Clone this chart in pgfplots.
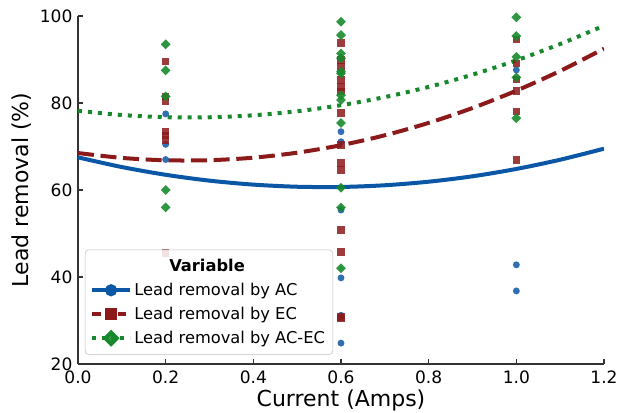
\documentclass[border=0pt]{standalone}
\usepackage{pgfplots}
\pgfplotsset{compat=1.18}
\usepackage{fontspec}
\usepackage{calc}
\setmainfont{DejaVu Sans}
\definecolor{cblue}{HTML}{0B56A5}
\definecolor{cred}{HTML}{8C1A1A}
\definecolor{cgreen}{HTML}{17892C}
\begin{document}
\begin{tikzpicture}
\begin{axis}[
  scale only axis,
  width=394.5pt, height=261pt,
  xmin=0, xmax=1.2, ymin=20, ymax=100,
  axis x line*=bottom, axis y line*=left,
  axis line style={line width=0.8pt, black!80},
  tick style={line width=0.8pt, black!80},
  tick align=inside,
  major tick length=3.5pt,
  xtick={0,0.2,0.4,0.6,0.8,1.0,1.2},
  ytick={20,40,60,80,100},
  xticklabel style={inner ysep=0pt, inner xsep=0pt, yshift=-4.6pt, /pgf/number format/fixed, /pgf/number format/fixed zerofill, /pgf/number format/precision=1},
  /pgf/number format/assume math mode=true,
  tick label style={font=\fontsize{12.8}{15}\selectfont},
  yticklabel style={inner xsep=4pt, inner ysep=0pt},
  label style={font=\fontsize{16.5}{19}\selectfont},
  xlabel={Current (Amps)},
  ylabel={Lead removal (\%)},
  xlabel style={yshift=-1pt},
  ylabel style={yshift=-1pt},
  legend image code/.code={\draw[mark repeat=2,mark phase=2,#1] plot coordinates {(0pt,0pt) (14pt,0pt) (28pt,0pt)};},
  legend style={at={(rel axis cs:0.013,0.026)}, anchor=south west,
    draw=black!25, rounded corners=3pt, fill=white, fill opacity=0.85, text opacity=1,
    font=\fontsize{12.2}{14}\selectfont, row sep=3.2pt, inner xsep=4pt, inner ysep=5pt},
  legend cell align=left,
]
% fitted curves
\addplot[cblue, line width=3pt, smooth, forget plot] coordinates {
 (0,67.5) (0.1,65.28) (0.2,63.50) (0.3,62.15) (0.4,61.24) (0.5,60.75) (0.6,60.70)
 (0.7,61.09) (0.8,61.91) (0.9,63.15) (1.0,64.84) (1.1,66.96) (1.2,69.5)};
\addplot[cred, line width=3pt, smooth, dash pattern=on 12pt off 5pt, forget plot] coordinates {
 (0,68.5) (0.1,67.38) (0.2,66.83) (0.3,66.85) (0.4,67.43) (0.5,68.58) (0.6,70.3)
 (0.7,72.58) (0.8,75.43) (0.9,78.85) (1.0,82.83) (1.1,87.38) (1.2,92.5)};
\addplot[cgreen, line width=3pt, smooth, dash pattern=on 3pt off 4.5pt, forget plot] coordinates {
 (0,78.2) (0.1,77.24) (0.2,76.74) (0.3,76.72) (0.4,77.18) (0.5,78.1) (0.6,79.5)
 (0.7,81.36) (0.8,83.7) (0.9,86.52) (1.0,89.8) (1.1,93.56) (1.2,97.78)};
% observations
\addplot[only marks, mark=*, mark size=2.6pt, cblue, fill opacity=0.85, draw opacity=0, forget plot] coordinates {
 (0.2,77.5) (0.2,70.5) (0.2,67)
 (0.6,73.4) (0.6,71.1) (0.6,55.4) (0.6,39.8) (0.6,31.2) (0.6,24.8)
 (1.0,87.6) (1.0,42.8) (1.0,36.8)};
\addplot[only marks, mark=square*, mark size=2.8pt, cred, fill opacity=0.85, draw opacity=0, forget plot] coordinates {
 (0.2,89.5) (0.2,81.5) (0.2,80.5) (0.2,73.5) (0.2,72.5) (0.2,71.5) (0.2,45.5)
 (0.6,93.8) (0.6,89.9) (0.6,88.3) (0.6,85.3) (0.6,83.7) (0.6,82.6) (0.6,77.7) (0.6,70.3)
 (0.6,66.2) (0.6,64.6) (0.6,50.8) (0.6,45.8) (0.6,30.8) (0.6,30.5)
 (1.0,94.6) (1.0,89.1) (1.0,85.4) (1.0,82.8) (1.0,78) (1.0,66.9)};
\addplot[only marks, mark=square*, mark size=2.6pt, mark options={rotate=45}, cgreen, fill opacity=0.9, draw opacity=0, forget plot] coordinates {
 (0.2,93.5) (0.2,87.5) (0.2,81.5) (0.2,60) (0.2,56)
 (0.6,98.7) (0.6,95.6) (0.6,91.4) (0.6,90.3) (0.6,87.2) (0.6,86.8) (0.6,81.8) (0.6,80.7)
 (0.6,75.4) (0.6,60.5) (0.6,56) (0.6,42)
 (1.0,99.7) (1.0,95.4) (1.0,90.6) (1.0,85.9) (1.0,76.5)};
% legend
\addlegendimage{empty legend}
\addlegendentry{\hspace*{-17pt}\makebox[\widthof{Lead removal by AC-EC}][c]{\textbf{Variable}}}
\addlegendimage{cblue, line width=3pt, mark=*, mark size=3pt, mark options={solid}}
\addlegendentry{Lead removal by AC}
\addlegendimage{cred, line width=3pt, dash pattern=on 6.5pt off 3pt, mark=square*, mark size=3pt, mark options={solid}}
\addlegendentry{Lead removal by EC}
\addlegendimage{cgreen, line width=3pt, dash pattern=on 3pt off 4pt, mark=square*, mark size=3pt, mark options={solid, rotate=45}}
\addlegendentry{Lead removal by AC-EC}
\end{axis}
\pgfresetboundingbox
\path ([xshift=-58.5pt,yshift=-36pt]current axis.south west) rectangle ([xshift=412.5pt,yshift=273pt]current axis.south west);
\end{tikzpicture}
\end{document}
